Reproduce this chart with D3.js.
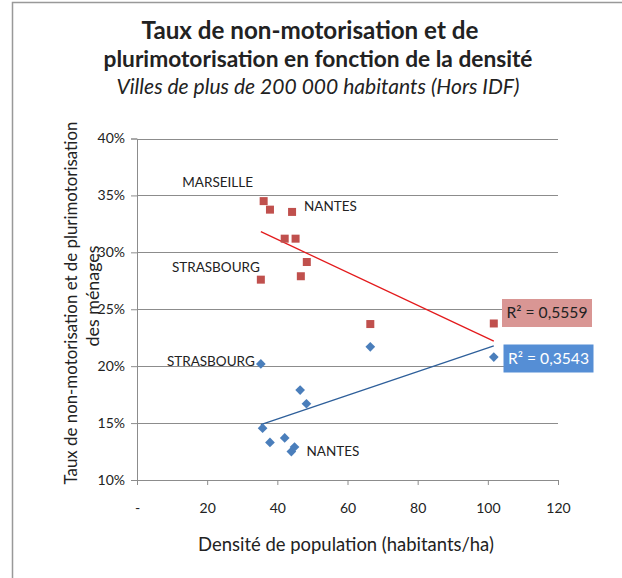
<!DOCTYPE html>
<html>
<head>
<meta charset="utf-8">
<title>Taux de non-motorisation</title>
<script src="https://d3js.org/d3.v7.min.js"></script>
<style>
  body { margin: 0; background: #fff; }
  text { font-family: Lato, "Open Sans", sans-serif; fill: #222; }
</style>
</head>
<body>
<div id="chart"></div>
<script>
// densité (hab/ha) et taux
var nonMotorX = [35.3, 36.1, 37.9, 42.1, 44.2, 45.2, 46.7, 48.4, 66.5, 101.7];
var nonMotorY = [27.6, 34.5, 33.75, 31.2, 33.55, 31.2, 27.9, 29.15, 23.7, 23.75];
var pluriX = [35.3, 35.8, 37.9, 42.1, 44.0, 44.9, 46.5, 48.3, 66.5, 101.7];
var pluriY = [20.2, 14.55, 13.3, 13.7, 12.5, 12.9, 17.9, 16.7, 21.7, 20.8];
var xTicks = [0, 20, 40, 60, 80, 100, 120];
var yTicks = [10, 15, 20, 25, 30, 35, 40];
var r2Labels = ["R² = 0,5559", "R² = 0,3543"];
// étiquettes de villes : [série, index du point]
var cityLabels = [
  {name: "MARSEILLE", s: 0, i: 1},
  {name: "NANTES", s: 0, i: 4},
  {name: "STRASBOURG", s: 0, i: 0},
  {name: "STRASBOURG", s: 1, i: 0},
  {name: "NANTES", s: 1, i: 5}
];

var W = 622, H = 578;
var svg = d3.select("#chart").append("svg")
  .attr("width", W).attr("height", H);

// ajuste la taille de police pour obtenir une largeur donnée
function fit(t, w) {
  var fs = parseFloat(t.style("font-size"));
  var len = t.node().getComputedTextLength();
  t.style("font-size", (fs * w / len).toFixed(2) + "px");
  return t;
}

// cadre
svg.append("path")
  .attr("d", "M12.5,578 V2.5 H622")
  .attr("fill", "none").attr("stroke", "#999").attr("stroke-width", 1.5);

var x = d3.scaleLinear().domain([0, 120]).range([137, 558]);
var y = d3.scaleLinear().domain([10, 40]).range([480, 138.5]);

// titres
fit(svg.append("text").attr("x", 310).attr("y", 39).attr("text-anchor", "middle")
  .style("font-size", "20px").style("font-weight", "bold")
  .text("Taux de non-motorisation et de"), 337);
fit(svg.append("text").attr("x", 318).attr("y", 67).attr("text-anchor", "middle")
  .style("font-size", "20px").style("font-weight", "bold")
  .text("plurimotorisation en fonction de la densité"), 429);
fit(svg.append("text").attr("x", 318).attr("y", 94).attr("text-anchor", "middle")
  .style("font-size", "17px").style("font-style", "italic")
  .text("Villes de plus de 200 000 habitants (Hors IDF)"), 403);

// grille
svg.append("g").selectAll("line").data(yTicks.slice(1)).enter().append("line")
  .attr("x1", x(0)).attr("x2", x(120))
  .attr("y1", function(d) { return Math.round(y(d)) + 0.5; })
  .attr("y2", function(d) { return Math.round(y(d)) + 0.5; })
  .attr("stroke", "#8c8c8c").attr("stroke-width", 1);

// axes
var yAxis = svg.append("g").attr("transform", "translate(" + x(0) + ",0)")
  .call(d3.axisLeft(y).tickValues(yTicks).tickSize(6).tickPadding(6)
    .tickFormat(function(d) { return d + "%"; }));
var xAxis = svg.append("g").attr("transform", "translate(0," + y(10) + ")")
  .call(d3.axisBottom(x).tickValues(xTicks).tickSize(5).tickPadding(18)
    .tickFormat(function(d) { return d === 0 ? "-" : d; }));
[xAxis, yAxis].forEach(function(a) {
  a.select(".domain").attr("stroke", "#8c8c8c");
  a.selectAll(".tick line").attr("stroke", "#8c8c8c");
  a.selectAll(".tick text").style("font-size", "14px").style("font-family", "Lato, sans-serif").attr("fill", "#222");
});

// titres d'axes
fit(svg.append("text").attr("x", 346).attr("y", 551).attr("text-anchor", "middle")
  .style("font-size", "17px").text("Densité de population (habitants/ha)"), 296);
var yTitle = fit(svg.append("text").attr("transform", "translate(77,303) rotate(-90)")
  .attr("text-anchor", "middle").style("font-size", "17px")
  .text("Taux de non-motorisation et de plurimotorisation"), 363);
svg.append("text").attr("transform", "translate(99,296) rotate(-90)")
  .attr("text-anchor", "middle")
  .style("font-size", (parseFloat(yTitle.style("font-size")) * 1.06).toFixed(2) + "px")
  .text("des ménages");

// régressions linéaires
function regress(xs, ys) {
  var n = xs.length, mx = d3.mean(xs), my = d3.mean(ys), sxy = 0, sxx = 0;
  for (var i = 0; i < n; i++) { sxy += (xs[i] - mx) * (ys[i] - my); sxx += (xs[i] - mx) * (xs[i] - mx); }
  var b = sxy / sxx, a = my - b * mx;
  return function(v) { return a + b * v; };
}
var series = [
  {xs: nonMotorX, ys: nonMotorY, color: "#c0504d", line: "#e31a1c"},
  {xs: pluriX, ys: pluriY, color: "#4f81bd", line: "#2e5f9a"}
];
series.forEach(function(s) {
  var f = regress(s.xs, s.ys);
  var x0 = d3.min(s.xs), x1 = d3.max(s.xs);
  svg.append("line")
    .attr("x1", x(x0)).attr("y1", y(f(x0)))
    .attr("x2", x(x1)).attr("y2", y(f(x1)))
    .attr("stroke", s.line).attr("stroke-width", 1.3);
});

// points
svg.append("g").selectAll("rect").data(d3.range(nonMotorX.length)).enter().append("rect")
  .attr("x", function(i) { return x(nonMotorX[i]) - 4; })
  .attr("y", function(i) { return y(nonMotorY[i]) - 4; })
  .attr("width", 8).attr("height", 8)
  .attr("fill", "#c0504d");
svg.append("g").selectAll("path").data(d3.range(pluriX.length)).enter().append("path")
  .attr("d", d3.symbol().type(d3.symbolDiamond2).size(60))
  .attr("transform", function(i) { return "translate(" + x(pluriX[i]) + "," + y(pluriY[i]) + ")"; })
  .attr("fill", "#4a7ebb");

// étiquettes
var labelOffsets = [[-46, -19], [12, -6], [-45, -12], [-50, -3], [12, 4]];
cityLabels.forEach(function(c, k) {
  var s = series[c.s];
  svg.append("text")
    .attr("x", x(s.xs[c.i]) + labelOffsets[k][0])
    .attr("y", y(s.ys[c.i]) + labelOffsets[k][1])
    .attr("text-anchor", labelOffsets[k][0] < 0 ? "middle" : "start")
    .attr("dy", "0.35em")
    .style("font-size", "13.5px").text(c.name);
});

// encadrés R²
var boxes = [
  {y0: 299, fill: "#d99694", txt: "#222"},
  {y0: 344.5, fill: "#558ed5", txt: "#fff"}
];
boxes.forEach(function(b, k) {
  svg.append("rect").attr("x", 502 + k * 1.5).attr("y", b.y0).attr("width", 90).attr("height", 28)
    .attr("fill", b.fill);
  fit(svg.append("text").attr("x", 547 + k * 1.5).attr("y", b.y0 + 14).attr("dy", "0.35em")
    .attr("text-anchor", "middle").style("font-size", "14px").style("fill", b.txt)
    .text(r2Labels[k]), 81);
});
</script>
</body>
</html>
